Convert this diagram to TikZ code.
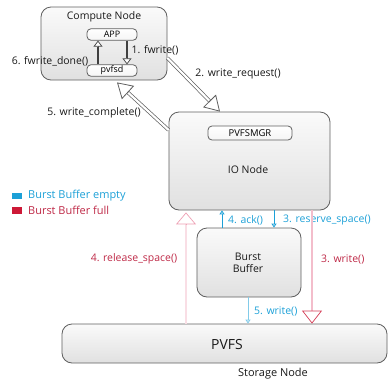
\documentclass[tikz,border=0pt]{standalone}
\usepackage{fontspec}
\setmainfont{Open Sans}
\usetikzlibrary{arrows.meta,calc}
\definecolor{bbcyan}{RGB}{28,160,215}
\definecolor{bbred}{RGB}{205,25,55}
\definecolor{bbredtxt}{RGB}{190,40,70}
\definecolor{bbpink}{RGB}{238,160,180}
\definecolor{edge}{RGB}{95,95,95}
\begin{document}
\begin{tikzpicture}[x=1bp,y=-1bp,
  lbl/.style={font=\fontsize{10.5}{12}\selectfont, inner sep=0pt, text=black!90},
  bigbox/.style={draw=edge, line width=0.8bp, rounded corners=10bp, top color=gray!4, bottom color=gray!24, inner sep=0pt},
  smallbox/.style={draw=edge, line width=0.8bp, rounded corners=4bp, top color=white, bottom color=gray!8, inner sep=0pt, font=\fontsize{9}{10}\selectfont},
  dblshaft/.style={draw=edge, line width=0.7bp, double=white, double distance=2.2bp},
  bigtip/.style={draw=edge, line width=0.8bp, -{Triangle[fill=white, length=15bp, width=18bp]}},
  innershaft/.style={draw=black!75, line width=2bp},
  innertip/.style={draw=black!75, line width=0.7bp, -{Triangle[fill=white, length=6bp, width=9bp]}},
  cyanarrow/.style={draw=bbcyan, line width=0.8bp, -{Triangle[fill=white, length=4bp, width=5bp]}},
  lightcyanarrow/.style={draw=bbcyan!55, line width=0.8bp, -{Triangle[fill=white, length=4bp, width=5bp]}},
  redshaft/.style={draw=bbred!85, line width=0.6bp, double=bbpink!70, double distance=1.4bp},
  redtip/.style={draw=bbred!85, line width=0.7bp, -{Triangle[fill=white, length=13bp, width=20bp]}},
  pinkshaft/.style={draw=bbpink, line width=0.5bp, double=bbpink!35, double distance=1.6bp},
  pinktip/.style={draw=bbpink, line width=0.7bp, -{Triangle[fill=white, length=12bp, width=20bp]}},
]
\useasboundingbox (0,0) rectangle (388,380);

% boxes
\node[bigbox, minimum width=126bp, minimum height=73bp] (cn) at (104,43.5) {};
\node[lbl] (cnlbl) at (104,16.5) {Compute Node};
\node[smallbox, minimum width=50bp, minimum height=11.5bp] (app) at (112,34.5) {APP};
\node[smallbox, minimum width=50bp, minimum height=11.5bp] (pvfsd) at (112,70.5) {pvfsd};

\node[bigbox, minimum width=161bp, minimum height=98bp] (io) at (249.5,161) {};
\node[smallbox, minimum width=84bp, minimum height=14bp, font=\fontsize{9.5}{11}\selectfont] (mgr) at (250,133) {PVFSMGR};
\node[lbl] (iolbl) at (248,169.5) {IO Node};

\node[bigbox, minimum width=104bp, minimum height=69bp] (bb) at (249,262.5) {};
\node[lbl, align=center, font=\fontsize{10.5}{11.5}\selectfont] (bblbl) at (248,263) {Burst\\Buffer};

\node[bigbox, minimum width=325bp, minimum height=39bp] (pvfs) at (224.5,343.5) {};
\node[lbl, font=\fontsize{14}{16}\selectfont] (pvfslbl) at (227,345) {PVFS};
\node[lbl, font=\fontsize{11}{12}\selectfont] (stlbl) at (273,373.5) {Storage Node};

% legend
\node[fill=bbcyan, minimum width=10bp, minimum height=6.5bp, inner sep=0pt] (lgc) at (17,196) {};
\node[fill=bbred, minimum width=10bp, minimum height=6.5bp, inner sep=0pt] (lgr) at (17,210.5) {};
\node[lbl, text=bbcyan, anchor=west, font=\fontsize{11}{12}\selectfont] (lgct) at (28,196) {Burst Buffer empty};
\node[lbl, text=bbredtxt, anchor=west, font=\fontsize{11}{12}\selectfont] (lgrt) at (28,210.5) {Burst Buffer full};

% fwrite / fwrite_done inside the compute node
\coordinate (upS) at ($(pvfsd.north)+(-14,0)$);
\coordinate (upE) at ($(app.south)+(-14,0)$);
\draw[innershaft] (upS) -- ($(upE)!6bp!(upS)$);
\draw[innertip] ($(upE)!6bp!(upS)$) -- (upE);
\coordinate (dnS) at ($(app.south)+(15,0)$);
\coordinate (dnE) at ($(pvfsd.north)+(15,0)$);
\draw[innershaft] (dnS) -- ($(dnE)!6bp!(dnS)$);
\draw[innertip] ($(dnE)!6bp!(dnS)$) -- (dnE);
\node[lbl] (l6) at (50,61) {6. fwrite\_done()};
\node[lbl] (l1) at (155,50) {1. fwrite()};

% write_request
\coordinate (wrS) at ($(cn.east)+(0,14.5)$);
\coordinate (wrE) at ($(io.north)+(-29.5,0)$);
\draw[dblshaft] (wrS) -- ($(wrE)!15bp!(wrS)$);
\draw[bigtip] ($(wrE)!15bp!(wrS)$) -- (wrE);
\node[lbl] (l2) at (238,74) {2. write\_request()};

% write_complete
\coordinate (wcS) at ($(io.west)+(0,-31)$);
\coordinate (wcE) at ($(cn.south)+(13,2)$);
\draw[dblshaft] (wcS) -- ($(wcE)!15bp!(wcS)$);
\draw[bigtip] ($(wcE)!15bp!(wcS)$) -- (wcE);
\node[lbl] (l5) at (94,113) {5. write\_complete()};

% release_space
\coordinate (rsS) at (pvfs.north -| 186,0);
\coordinate (rsE) at ($(io.south -| 186,0)+(0,2)$);
\draw[pinkshaft] (rsS) -- ($(rsE)!12bp!(rsS)$);
\draw[pinktip] ($(rsE)!12bp!(rsS)$) -- (rsE);
\node[lbl, text=bbredtxt] (l4r) at (134,259) {4. release\_space()};

% ack / reserve_space
\draw[cyanarrow] (bb.north -| 222,0) -- (io.south -| 222,0);
\node[lbl, text=bbcyan, anchor=west] (l4a) at (228,220) {4. ack()};
\draw[cyanarrow] (io.south -| 274,0) -- (bb.north -| 274,0);
\node[lbl, text=bbcyan, anchor=west] (l3r) at (283,220) {3. reserve\_space()};

% write to PVFS from the IO node
\coordinate (w3S) at (io.south -| 312,0);
\coordinate (w3E) at (pvfs.north -| 312,0);
\draw[redshaft] (w3S) -- ($(w3E)!13bp!(w3S)$);
\draw[redtip] ($(w3E)!13bp!(w3S)$) -- (w3E);
\node[lbl, text=bbredtxt, anchor=west] (l3w) at (321,259) {3. write()};

% write from the burst buffer
\draw[lightcyanarrow] (bb.south -| 248,0) -- (pvfs.north -| 248,0);
\node[lbl, text=bbcyan, anchor=west] (l5w) at (254,311) {5. write()};
\end{tikzpicture}
\end{document}
